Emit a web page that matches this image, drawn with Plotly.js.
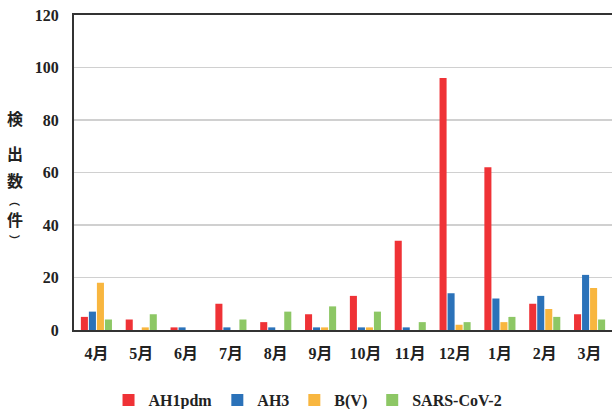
<!DOCTYPE html>
<html>
<head>
<meta charset="utf-8">
<script src="https://cdn.plot.ly/plotly-3.0.1.min.js"></script>
<style>html,body{margin:0;padding:0;background:#fff;}#chart{width:612px;height:409px;}</style>
</head>
<body>
<div id="chart"></div>
<script>
const months = ["4月","5月","6月","7月","8月","9月","10月","11月","12月","1月","2月","3月"];
const ah1pdm = [5, 4, 1, 10, 3, 6, 13, 34, 96, 62, 10, 6];
const ah3    = [7, 0, 1, 1, 1, 1, 1, 1, 14, 12, 13, 21];
const bv     = [18, 1, 0, 0, 0, 1, 1, 0, 2, 3, 8, 16];
const sars   = [4, 6, 0, 4, 7, 9, 7, 3, 3, 5, 5, 4];
const seriesNames = ["AH1pdm","AH3","B(V)","SARS-CoV-2"];
const seriesColors = ["#EF3236","#2B72B9","#F8B63F","#8DC765"];
const yTitleParts = ["検","出","数","︵","件","︶"];
const yTitleY = [0.673, 0.563, 0.476, 0.4127, 0.352, 0.2857];
const yTitleSize = [16, 16, 16, 11, 16, 11];

const seriesData = [ah1pdm, ah3, bv, sars];
const traces = seriesData.map((vals, i) => ({
  type: "bar",
  name: seriesNames[i],
  x: months,
  y: vals,
  marker: {color: seriesColors[i], line: {width: 0}}
}));

const serif = "Liberation Serif, 'Times New Roman', 'Noto Sans CJK JP', serif";
const annotations = yTitleParts.map((c, i) => ({
  text: c,
  xref: "paper", yref: "paper",
  x: -0.11, y: yTitleY[i],
  xanchor: "center", yanchor: "middle",
  showarrow: false,
  borderpad: 0,
  font: {family: "'Noto Sans CJK JP', sans-serif", size: yTitleSize[i], color: "#222", weight: "bold"}
}));

const layout = {
  width: 612, height: 409,
  margin: {l: 74, r: 0, t: 15, b: 79},
  paper_bgcolor: "#fff", plot_bgcolor: "#fff",
  barmode: "group",
  bargap: 0.285,
  bargroupgap: 0.12,
  showlegend: true,
  legend: {
    orientation: "h",
    xref: "paper", x: 0.435, xanchor: "center",
    yref: "container", y: 0.022, yanchor: "middle",
    font: {family: serif, size: 16, color: "#222", weight: "bold"},
    itemwidth: 30
  },
  xaxis: {
    type: "category",
    showline: true, mirror: true, linecolor: "#333", linewidth: 2,
    showgrid: false, ticks: "",
    ticklabelstandoff: 8,
    automargin: false,
    tickfont: {family: serif, size: 16, color: "#222", weight: "bold"}
  },
  yaxis: {
    range: [0, 120], dtick: 20,
    showline: true, linecolor: "#333", linewidth: 2,
    showgrid: true, gridcolor: "#d0d0d0", gridwidth: 1.5,
    zeroline: false, ticks: "",
    ticklabelstandoff: 10,
    automargin: false,
    tickfont: {family: serif, size: 16, color: "#222", weight: "bold"}
  },
  annotations: annotations
};

Plotly.newPlot("chart", traces, layout, {staticPlot: true, displayModeBar: false});
</script>
</body>
</html>
